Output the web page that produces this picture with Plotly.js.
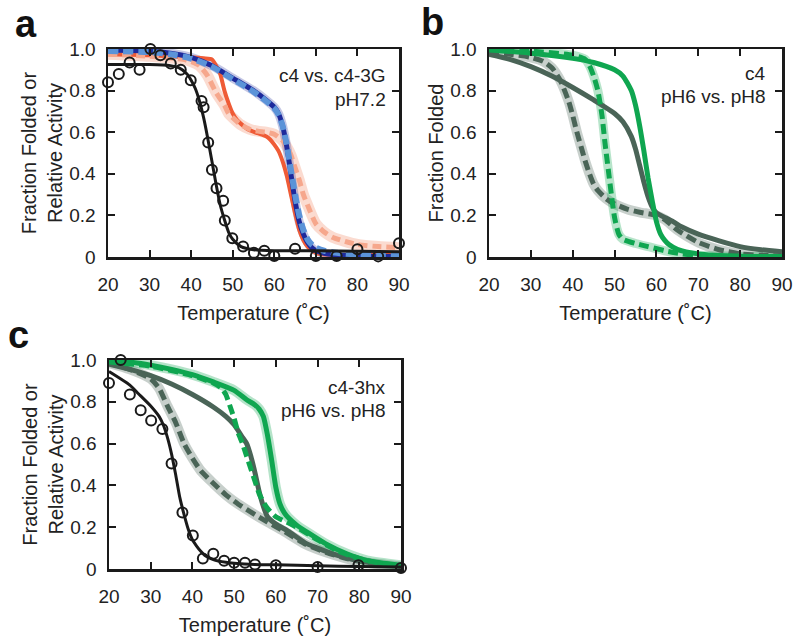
<!DOCTYPE html>
<html>
<head>
<meta charset="utf-8">
<script src="https://cdn.plot.ly/plotly-3.0.1.min.js"></script>
<style>
  html, body { margin: 0; padding: 0; background: #fff; }
  #chart { width: 800px; height: 643px; }
</style>
</head>
<body>
<div id="chart"></div>
<script>
// ---- panel a : c4 vs. c4-3G, pH7.2 ----
const aActT = [20, 22.6, 25.2, 27.6, 30.2, 32.6, 35.1, 37.5, 39.9, 42.5, 43, 44.1, 45, 46.1, 47.7, 48.1, 49.9, 52.5, 55.1, 57.6, 60, 65, 70, 75, 80, 85, 90];
const aActY = [0.84, 0.88, 0.935, 0.90, 1.0, 0.97, 0.93, 0.90, 0.85, 0.75, 0.72, 0.55, 0.42, 0.33, 0.27, 0.175, 0.09, 0.05, 0.02, 0.03, 0.005, 0.04, 0.005, 0.005, 0.037, 0.003, 0.066];
const aFitT = [20, 30, 35, 37, 39, 40, 41, 42, 43, 44, 45, 46, 47, 48, 49, 50, 52, 55, 60, 70, 80, 90];
const aFitY = [0.925, 0.925, 0.92, 0.91, 0.88, 0.85, 0.81, 0.75, 0.67, 0.57, 0.46, 0.35, 0.25, 0.18, 0.12, 0.085, 0.05, 0.035, 0.03, 0.03, 0.028, 0.025];
const aOrT = [20, 30, 40, 43, 45, 46, 47, 48, 49, 50, 51, 52, 54, 56, 58, 59, 60, 61, 62, 63, 64, 65, 66, 67, 68, 70, 72, 75, 80, 90];
const aOrY = [0.975, 0.97, 0.96, 0.955, 0.95, 0.92, 0.88, 0.80, 0.74, 0.69, 0.66, 0.64, 0.61, 0.595, 0.58, 0.565, 0.54, 0.51, 0.46, 0.39, 0.30, 0.21, 0.13, 0.08, 0.05, 0.02, 0.012, 0.01, 0.01, 0.01];
const aSaT = [20, 30, 38, 40, 42, 44, 45, 46, 47, 48, 49, 50, 52, 54, 56, 58, 60, 62, 63, 64, 65, 66, 67, 68, 70, 72, 74, 77, 80, 85, 90];
const aSaY = [0.975, 0.965, 0.95, 0.94, 0.92, 0.87, 0.83, 0.79, 0.76, 0.73, 0.69, 0.67, 0.635, 0.615, 0.605, 0.60, 0.59, 0.56, 0.53, 0.49, 0.43, 0.37, 0.30, 0.25, 0.16, 0.12, 0.095, 0.075, 0.06, 0.05, 0.045];
const aNvT = [20, 30, 35, 40, 45, 50, 55, 58, 60, 61, 62, 63, 64, 65, 66, 67, 68, 69, 70, 72, 75, 80, 90];
const aNvY = [0.995, 0.99, 0.98, 0.96, 0.92, 0.86, 0.80, 0.755, 0.72, 0.69, 0.63, 0.53, 0.40, 0.27, 0.17, 0.11, 0.07, 0.045, 0.03, 0.018, 0.01, 0.005, 0.003];
const aLbT = [20, 30, 35, 40, 45, 50, 55, 58, 60, 61, 62, 63, 64, 65, 66, 67, 68, 69, 70, 72, 75, 80, 85, 90];
const aLbY = [0.99, 0.985, 0.975, 0.955, 0.915, 0.855, 0.795, 0.75, 0.715, 0.685, 0.63, 0.54, 0.42, 0.30, 0.20, 0.13, 0.085, 0.06, 0.045, 0.03, 0.02, 0.012, 0.008, 0.005];

// ---- panel b : c4, pH6 vs. pH8 ----
const bGsT = [20, 30, 40, 45, 50, 52, 54, 55, 56, 57, 58, 59, 60, 61, 62, 63, 65, 70, 80, 90];
const bGsY = [0.995, 0.98, 0.955, 0.935, 0.90, 0.87, 0.80, 0.73, 0.63, 0.51, 0.38, 0.27, 0.17, 0.11, 0.08, 0.06, 0.037, 0.015, 0.004, 0.002];
const bGdT = [20, 30, 40, 43, 44, 45, 46, 47, 47.7, 48.5, 49.3, 50, 51, 52, 55, 58, 62, 66, 70, 80, 90];
const bGdY = [1.0, 0.99, 0.97, 0.95, 0.92, 0.87, 0.80, 0.68, 0.55, 0.42, 0.29, 0.19, 0.11, 0.085, 0.065, 0.05, 0.03, 0.015, 0.008, 0.003, 0.001];
const bKsT = [20, 25, 30, 35, 40, 45, 50, 52, 54, 55, 56, 57, 58, 59, 60, 62, 64, 66, 70, 75, 80, 85, 90];
const bKsY = [0.975, 0.95, 0.915, 0.87, 0.815, 0.755, 0.69, 0.65, 0.58, 0.52, 0.44, 0.36, 0.29, 0.24, 0.212, 0.19, 0.17, 0.145, 0.11, 0.078, 0.05, 0.035, 0.025];
const bKdT = [20, 25, 30, 33, 35, 37, 39, 40, 41, 42, 43, 44, 45, 46, 48, 50, 53, 56, 60, 62, 65, 70, 75, 80, 85, 90];
const bKdY = [0.985, 0.975, 0.96, 0.94, 0.91, 0.85, 0.75, 0.68, 0.60, 0.53, 0.46, 0.40, 0.35, 0.32, 0.28, 0.255, 0.23, 0.215, 0.20, 0.18, 0.13, 0.07, 0.035, 0.015, 0.008, 0.005];

// ---- panel c : c4-3hx, pH6 vs. pH8 ----
const cActT = [20, 22.8, 25, 27.6, 30.1, 32.8, 35, 37.6, 40.1, 42.5, 45, 47.6, 50, 52.6, 55, 60, 70, 79.8, 90];
const cActY = [0.89, 1.0, 0.835, 0.76, 0.71, 0.67, 0.505, 0.27, 0.16, 0.05, 0.073, 0.04, 0.03, 0.03, 0.022, 0.018, 0.01, 0.018, 0.005];
const cFitT = [20, 25, 27, 30, 32, 33, 34, 35, 36, 37, 38, 39, 40, 41, 42, 43, 45, 48, 50, 55, 60, 70, 80, 90];
const cFitY = [0.945, 0.88, 0.84, 0.78, 0.73, 0.69, 0.63, 0.55, 0.45, 0.34, 0.26, 0.19, 0.14, 0.11, 0.085, 0.065, 0.045, 0.032, 0.028, 0.022, 0.02, 0.015, 0.012, 0.01];
const cGsT = [20, 25, 30, 35, 40, 45, 50, 53, 55, 56, 57, 58, 59, 60, 61, 62, 63, 65, 68, 72, 77, 82, 90];
const cGsY = [0.995, 0.99, 0.975, 0.955, 0.93, 0.895, 0.855, 0.81, 0.785, 0.765, 0.73, 0.64, 0.52, 0.39, 0.31, 0.27, 0.245, 0.21, 0.17, 0.12, 0.073, 0.04, 0.018];
const cGdT = [20, 30, 40, 45, 47, 48, 49, 50, 51, 52, 53, 54, 55, 56, 57, 58, 60, 62, 65, 70, 75, 80, 85, 90];
const cGdY = [0.99, 0.97, 0.925, 0.89, 0.865, 0.835, 0.78, 0.72, 0.65, 0.60, 0.54, 0.48, 0.42, 0.36, 0.32, 0.29, 0.25, 0.23, 0.20, 0.14, 0.085, 0.05, 0.028, 0.015];
const cKsT = [20, 25, 30, 35, 40, 45, 48, 50, 52, 53, 54, 55, 56, 57, 58, 60, 63, 67, 70, 74, 78, 82, 86, 90];
const cKsY = [0.98, 0.955, 0.925, 0.885, 0.835, 0.775, 0.73, 0.69, 0.63, 0.60, 0.54, 0.46, 0.37, 0.30, 0.25, 0.215, 0.18, 0.125, 0.10, 0.07, 0.048, 0.032, 0.02, 0.013];
const cKdT = [20, 25, 30, 32, 34, 36, 38, 40, 42, 45, 48, 51, 55, 58, 62, 67, 72, 77, 82, 90];
const cKdY = [0.985, 0.955, 0.91, 0.865, 0.78, 0.70, 0.60, 0.53, 0.47, 0.41, 0.355, 0.31, 0.26, 0.225, 0.18, 0.12, 0.08, 0.05, 0.03, 0.012];

const yTicks = [0, 0.2, 0.4, 0.6, 0.8, 1.0];
const yTickText = ["0", "0.2", "0.4", "0.6", "0.8", "1.0"];
const xTicks = [20, 30, 40, 50, 60, 70, 80, 90];

const FONT = "Liberation Sans, Arial, sans-serif";
const BLACK = "#1a1a1a";
const ORANGE = "#ef5b36";
const SALMON = "#f6a78c";
const NAVY = "#1d2a9c";
const LBLUE = "#5b93d8";
const GREEN = "#0fa650";
const GREY = "#4a6457";

function line(x, y, color, width, dash, ax, opacity) {
  return {
    x: x, y: y, xaxis: "x" + ax, yaxis: "y" + ax,
    type: "scatter", mode: "lines", opacity: opacity || 1,
    line: {color: color, width: width, dash: dash || "solid", shape: "spline", smoothing: 0.6},
    hoverinfo: "skip", showlegend: false
  };
}
function circles(x, y, ax) {
  return {
    x: x, y: y, xaxis: "x" + ax, yaxis: "y" + ax,
    type: "scatter", mode: "markers", cliponaxis: false,
    marker: {symbol: "circle-open", size: 10, color: BLACK, line: {width: 2, color: BLACK}},
    hoverinfo: "skip", showlegend: false
  };
}

const traces = [
  // a
  line(aSaT, aSaY, SALMON, 11, "solid", "", 0.4),
  line(aNvT, aNvY, NAVY, 9, "solid", "", 0.25),
  line(aOrT, aOrY, ORANGE, 4, "solid", ""),
  line(aSaT, aSaY, SALMON, 5, "9px,5px", ""),
  line(aNvT, aNvY, NAVY, 5, "solid", ""),
  line(aLbT, aLbY, LBLUE, 6, "10px,5px", ""),
  line(aFitT, aFitY, BLACK, 3, "solid", ""),
  circles(aActT, aActY, ""),
  // b
  line(bKdT, bKdY, GREY, 10, "solid", "2", 0.3),
  line(bGdT, bGdY, GREEN, 9, "solid", "2", 0.3),
  line(bKsT, bKsY, GREY, 5, "solid", "2"),
  line(bKdT, bKdY, GREY, 5, "10px,5px", "2"),
  line(bGsT, bGsY, GREEN, 5, "solid", "2"),
  line(bGdT, bGdY, GREEN, 5, "10px,5px", "2"),
  // c
  line(cKdT, cKdY, GREY, 10, "solid", "3", 0.3),
  line(cGsT, cGsY, GREEN, 10, "solid", "3", 0.3),
  line(cKsT, cKsY, GREY, 5, "solid", "3"),
  line(cKdT, cKdY, GREY, 5, "10px,5px", "3"),
  line(cGsT, cGsY, GREEN, 5, "solid", "3"),
  line(cGdT, cGdY, GREEN, 5, "10px,5px", "3"),
  line(cFitT, cFitY, BLACK, 3, "solid", "3"),
  circles(cActT, cActY, "3")
];

function xAxis(domain, anchor) {
  return {
    domain: domain, anchor: anchor, range: [20, 90],
    tickvals: xTicks, ticks: "inside", ticklen: 7, tickwidth: 2, tickcolor: BLACK,
    showline: true, linewidth: 2.5, linecolor: BLACK, mirror: "ticks",
    showgrid: false, zeroline: false, ticklabelstandoff: 9,
    tickfont: {family: FONT, size: 19, color: "#222"},
    title: {text: "Temperature (˚C)", font: {family: FONT, size: 20, color: "#222"}, standoff: 12}
  };
}
function yAxis(domain, anchor, title) {
  return {
    domain: domain, anchor: anchor, range: [0, 1.0],
    tickvals: yTicks, ticktext: yTickText, ticks: "inside", ticklen: 7, tickwidth: 2, tickcolor: BLACK,
    showline: true, linewidth: 2.5, linecolor: BLACK, mirror: "ticks",
    showgrid: false, zeroline: false, ticklabelstandoff: 6,
    tickfont: {family: FONT, size: 19, color: "#222"},
    title: {text: title, font: {family: FONT, size: 20, color: "#222"}, standoff: 2}
  };
}

const dxA = [108 / 800, 399 / 800], dxB = [489 / 800, 782 / 800], dxC = [109 / 800, 401 / 800];
const dyTop = [1 - 257 / 643, 1 - 49 / 643], dyBot = [1 - 569 / 643, 1 - 360 / 643];

function note(text, px, py, size, bold, anchor) {
  return {
    xref: "paper", yref: "paper", x: px / 800, y: 1 - py / 643,
    xanchor: anchor || "right", yanchor: "middle", showarrow: false, text: text,
    font: {family: FONT, size: size, color: bold ? "#111" : "#222", weight: bold ? 700 : 400}
  };
}

const layout = {
  width: 800, height: 643,
  margin: {l: 0, r: 0, t: 0, b: 0},
  paper_bgcolor: "#fff", plot_bgcolor: "#fff",
  showlegend: false,
  xaxis: xAxis(dxA, "y"), yaxis: yAxis(dyTop, "x", "Fraction Folded or<br>Relative Activity"),
  xaxis2: xAxis(dxB, "y2"), yaxis2: yAxis(dyTop, "x2", "Fraction Folded"),
  xaxis3: xAxis(dxC, "y3"), yaxis3: yAxis(dyBot, "x3", "Fraction Folded or<br>Relative Activity"),
  annotations: [
    note("a", 26, 24, 38, true, "center"),
    note("b", 432, 22, 38, true, "center"),
    note("c", 18, 335, 38, true, "center"),
    note("c4 vs. c4-3G", 388, 75, 19),
    note("pH7.2", 388, 99, 19),
    note("c4", 768, 73, 19),
    note("pH6 vs. pH8", 768, 97, 19),
    note("c4-3hx", 388, 387, 19),
    note("pH6 vs. pH8", 388, 410, 19)
  ]
};

Plotly.newPlot("chart", traces, layout, {displayModeBar: false, staticPlot: true});
</script>
</body>
</html>
